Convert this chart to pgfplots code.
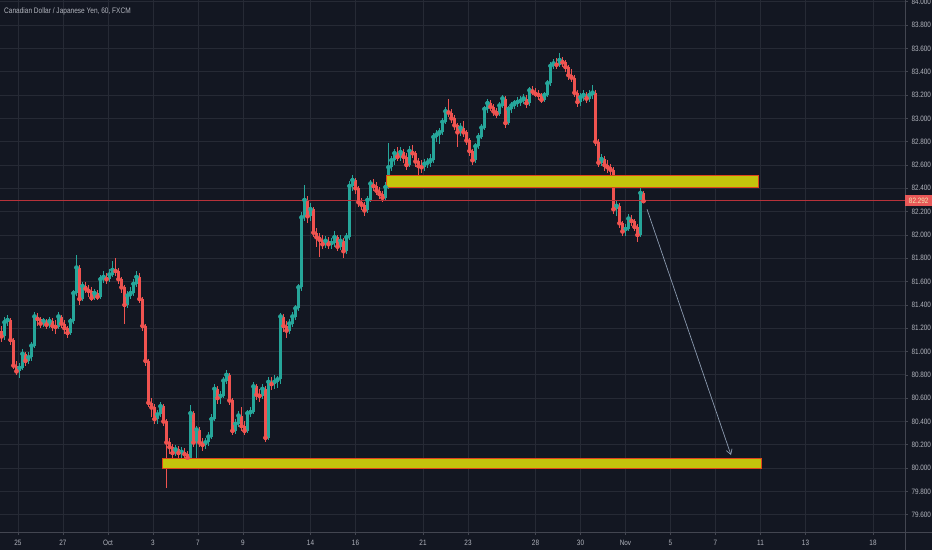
\documentclass[border=0pt]{standalone}
\usepackage{fontspec}
\newfontfamily\lbl{Liberation Sans}[FakeStretch=0.82]
\usepackage{pgfplots}
\pgfplotsset{compat=1.18}
\usepackage{pgfplotstable}
\usetikzlibrary{arrows.meta}
\definecolor{bg}{HTML}{131722}
\definecolor{gridc}{HTML}{262A35}
\definecolor{axc}{HTML}{434651}
\definecolor{txtc}{HTML}{B2B5BE}
\definecolor{upc}{HTML}{26A69A}
\definecolor{dnc}{HTML}{EF5350}
\definecolor{yel}{HTML}{C4C40C}
\definecolor{orng}{HTML}{E0461C}
\definecolor{arrc}{HTML}{8C9BB0}
\definecolor{pxline}{HTML}{B8323A}
\definecolor{lblred}{HTML}{E85858}
\definecolor{lbltxt}{HTML}{F0E8B0}
\pgfplotstableread{
x o h l c
1.5 81.18 81.22 81.08 81.13
4.5 81.13 81.30 81.10 81.25
7.5 81.25 81.31 81.22 81.27
10.5 81.27 81.29 81.06 81.10
13.5 81.10 81.12 80.85 80.88
16.5 80.88 80.92 80.80 80.83
19.5 80.83 80.90 80.77 80.86
22.5 80.86 81.02 80.84 80.98
25.5 80.98 81.00 80.88 80.92
28.5 80.92 81.00 80.89 80.95
31.5 80.95 81.08 80.92 81.05
34.5 81.05 81.34 81.03 81.30
37.5 81.30 81.33 81.22 81.28
40.5 81.28 81.30 81.20 81.24
43.5 81.24 81.29 81.21 81.26
46.5 81.26 81.28 81.19 81.23
49.5 81.23 81.30 81.20 81.26
52.5 81.26 81.29 81.18 81.22
55.5 81.22 81.27 81.15 81.21
58.5 81.21 81.34 81.19 81.30
61.5 81.30 81.31 81.20 81.24
64.5 81.24 81.27 81.15 81.20
67.5 81.20 81.22 81.12 81.16
70.5 81.16 81.29 81.14 81.26
73.5 81.26 81.53 81.24 81.50
76.5 81.50 81.83 81.48 81.72
79.5 81.72 81.74 81.40 81.45
82.5 81.45 81.60 81.43 81.56
85.5 81.56 81.60 81.50 81.54
88.5 81.54 81.57 81.47 81.52
91.5 81.52 81.55 81.43 81.46
94.5 81.46 81.54 81.44 81.50
97.5 81.50 81.53 81.44 81.47
100.5 81.47 81.66 81.45 81.62
103.5 81.62 81.69 81.59 81.64
106.5 81.64 81.67 81.58 81.62
109.5 81.62 81.71 81.60 81.66
112.5 81.66 81.78 81.64 81.70
115.5 81.70 81.80 81.65 81.69
118.5 81.69 81.72 81.58 81.62
121.5 81.62 81.64 81.50 81.55
124.5 81.55 81.57 81.24 81.40
127.5 81.40 81.52 81.37 81.48
130.5 81.48 81.55 81.45 81.50
133.5 81.50 81.62 81.48 81.58
136.5 81.58 81.69 81.55 81.64
139.5 81.64 81.67 81.42 81.45
142.5 81.45 81.47 81.18 81.22
145.5 81.22 81.24 80.88 80.92
148.5 80.92 80.94 80.52 80.56
151.5 80.56 80.60 80.44 80.52
154.5 80.52 80.55 80.38 80.42
157.5 80.42 80.50 80.38 80.46
160.5 80.46 80.57 80.44 80.53
163.5 80.53 80.55 80.36 80.40
166.5 80.40 80.42 79.83 80.22
169.5 80.22 80.26 80.12 80.18
172.5 80.18 80.21 80.09 80.13
175.5 80.13 80.20 80.10 80.16
178.5 80.16 80.19 80.09 80.13
181.5 80.13 80.18 80.09 80.14
184.5 80.14 80.17 80.08 80.12
187.5 80.12 80.15 80.06 80.09
190.5 80.09 80.54 80.07 80.47
193.5 80.47 80.49 80.18 80.22
196.5 80.22 80.36 80.04 80.33
199.5 80.33 80.35 80.18 80.22
202.5 80.22 80.26 80.15 80.20
205.5 80.20 80.26 80.16 80.22
208.5 80.22 80.31 80.19 80.27
211.5 80.27 80.46 80.25 80.42
214.5 80.42 80.72 80.40 80.68
217.5 80.68 80.70 80.55 80.60
220.5 80.60 80.66 80.55 80.62
223.5 80.62 80.78 80.60 80.75
226.5 80.75 80.84 80.72 80.80
229.5 80.80 80.82 80.54 80.58
232.5 80.58 80.60 80.28 80.32
235.5 80.32 80.42 80.29 80.38
238.5 80.38 80.49 80.35 80.45
241.5 80.45 80.52 80.32 80.36
244.5 80.36 80.40 80.28 80.32
247.5 80.32 80.50 80.30 80.47
250.5 80.47 80.52 80.44 80.48
253.5 80.48 80.74 80.46 80.70
256.5 80.70 80.72 80.58 80.63
259.5 80.63 80.68 80.57 80.62
262.5 80.62 80.72 80.59 80.68
265.5 80.68 80.70 80.22 80.26
268.5 80.26 80.78 80.24 80.74
271.5 80.74 80.78 80.67 80.72
274.5 80.72 80.80 80.68 80.74
277.5 80.74 80.79 80.69 80.76
280.5 80.76 81.33 80.72 81.30
283.5 81.30 81.32 81.17 81.22
286.5 81.22 81.26 81.12 81.18
289.5 81.18 81.28 81.15 81.24
292.5 81.24 81.34 81.21 81.30
295.5 81.30 81.40 81.27 81.37
298.5 81.37 81.58 81.35 81.55
301.5 81.55 82.20 81.52 82.15
304.5 82.15 82.43 82.12 82.30
307.5 82.30 82.33 82.10 82.16
310.5 82.16 82.27 82.12 82.22
313.5 82.22 82.24 81.98 82.02
316.5 82.02 82.06 81.90 81.98
319.5 81.98 82.02 81.81 81.96
322.5 81.96 82.00 81.88 81.92
325.5 81.92 81.99 81.89 81.95
328.5 81.95 81.98 81.88 81.92
331.5 81.92 81.97 81.88 81.93
334.5 81.93 82.03 81.90 81.98
337.5 81.98 82.00 81.86 81.90
340.5 81.90 82.00 81.87 81.95
343.5 81.95 81.97 81.80 81.86
346.5 81.86 82.02 81.84 81.98
349.5 81.98 82.46 81.96 82.42
352.5 82.42 82.51 82.38 82.47
355.5 82.47 82.49 82.35 82.40
358.5 82.40 82.42 82.24 82.28
361.5 82.28 82.32 82.21 82.26
364.5 82.26 82.28 82.16 82.21
367.5 82.21 82.33 82.19 82.30
370.5 82.30 82.47 82.28 82.44
373.5 82.44 82.48 82.38 82.42
376.5 82.42 82.45 82.34 82.38
379.5 82.38 82.41 82.31 82.35
382.5 82.35 82.38 82.28 82.32
385.5 82.32 82.45 82.30 82.41
388.5 82.41 82.79 82.39 82.58
391.5 82.58 82.68 82.55 82.64
394.5 82.64 82.74 82.60 82.70
397.5 82.70 82.75 82.63 82.67
400.5 82.67 82.75 82.63 82.71
403.5 82.71 82.74 82.62 82.67
406.5 82.67 82.70 82.56 82.60
409.5 82.60 82.76 82.58 82.72
412.5 82.72 82.77 82.66 82.70
415.5 82.70 82.72 82.58 82.63
418.5 82.63 82.66 82.46 82.59
421.5 82.59 82.64 82.53 82.58
424.5 82.58 82.65 82.55 82.61
427.5 82.61 82.66 82.57 82.62
430.5 82.62 82.69 82.58 82.64
433.5 82.64 82.87 82.62 82.84
436.5 82.84 82.90 82.80 82.86
439.5 82.86 82.92 82.78 82.88
442.5 82.88 83.00 82.86 82.97
445.5 82.97 83.10 82.95 83.06
448.5 83.06 83.17 83.01 83.05
451.5 83.05 83.08 82.96 83.00
454.5 83.00 83.03 82.90 82.94
457.5 82.94 82.96 82.75 82.88
460.5 82.88 82.96 82.85 82.92
463.5 82.92 82.98 82.84 82.88
466.5 82.88 82.90 82.77 82.81
469.5 82.81 82.83 82.68 82.72
472.5 82.72 82.74 82.60 82.64
475.5 82.64 82.79 82.62 82.76
478.5 82.76 82.87 82.74 82.84
481.5 82.84 82.95 82.82 82.92
484.5 82.92 83.11 82.90 83.08
487.5 83.08 83.17 83.05 83.13
490.5 83.13 83.16 83.06 83.10
493.5 83.10 83.12 83.02 83.06
496.5 83.06 83.09 83.00 83.04
499.5 83.04 83.14 83.02 83.11
502.5 83.11 83.20 83.09 83.17
505.5 83.17 83.19 82.92 82.96
508.5 82.96 83.11 82.94 83.08
511.5 83.08 83.14 83.05 83.11
514.5 83.11 83.16 83.08 83.13
517.5 83.13 83.18 83.10 83.14
520.5 83.14 83.19 83.11 83.15
523.5 83.15 83.21 83.12 83.17
526.5 83.17 83.20 83.09 83.13
529.5 83.13 83.27 83.11 83.24
532.5 83.24 83.28 83.20 83.23
535.5 83.23 83.26 83.18 83.21
538.5 83.21 83.24 83.16 83.20
541.5 83.20 83.22 83.13 83.16
544.5 83.16 83.23 83.14 83.20
547.5 83.20 83.33 83.18 83.30
550.5 83.30 83.48 83.28 83.45
553.5 83.45 83.51 83.42 83.47
556.5 83.47 83.52 83.42 83.46
559.5 83.46 83.56 83.44 83.50
562.5 83.50 83.53 83.44 83.48
565.5 83.48 83.50 83.40 83.44
568.5 83.44 83.46 83.33 83.37
571.5 83.37 83.42 83.31 83.35
574.5 83.35 83.37 83.18 83.22
577.5 83.22 83.24 83.10 83.14
580.5 83.14 83.22 83.11 83.18
583.5 83.18 83.24 83.15 83.20
586.5 83.20 83.23 83.13 83.17
589.5 83.17 83.24 83.14 83.20
592.5 83.20 83.29 83.17 83.22
595.5 83.22 83.24 82.76 82.80
598.5 82.80 82.82 82.58 82.62
601.5 82.62 82.69 82.59 82.65
604.5 82.65 82.68 82.55 82.60
607.5 82.60 82.64 82.53 82.58
610.5 82.58 82.61 82.50 82.56
613.5 82.56 82.58 82.18 82.22
616.5 82.22 82.30 82.16 82.25
619.5 82.25 82.27 82.06 82.10
622.5 82.10 82.12 81.99 82.03
625.5 82.03 82.09 81.99 82.05
628.5 82.05 82.18 82.03 82.14
631.5 82.14 82.17 82.08 82.12
634.5 82.12 82.14 82.03 82.07
637.5 82.07 82.09 81.94 82.00
640.5 82.00 82.41 81.98 82.36
643.5 82.36 82.38 82.27 82.29
}\candles
\begin{document}
\begin{tikzpicture}
\fill[bg] (0,0) rectangle (932bp,550bp);
\begin{axis}[
  at={(0,18bp)}, anchor=south west,
  width=905bp, height=532bp, scale only axis,
  xmin=0, xmax=905, ymin=79.452, ymax=84.015,
  axis x line*=bottom, axis y line*=right,
  axis line style={draw=axc, line width=0.8bp},
  grid=major, major grid style={draw=gridc, line width=0.7bp},
  xtick={18,63,108,153,198,243,310.5,355.5,423,468,535.5,580.5,625.5,670.5,715.5,760.5,805.5,873},
  xticklabels={25,27,Oct,3,7,9,14,16,21,23,28,30,Nov,5,7,11,13,18},
  ytick={79.6,79.8,80,80.2,80.4,80.6,80.8,81,81.2,81.4,81.6,81.8,82,82.2,82.4,82.6,82.8,83,83.2,83.4,83.6,83.8,84},
  /pgf/number format/assume math mode=true,
  yticklabel style={/pgf/number format/fixed, /pgf/number format/fixed zerofill, /pgf/number format/precision=3, /pgf/number format/assume math mode=true, anchor=west, xshift=0bp},
  tick style={draw=axc, line width=0.6bp},
  major tick length=3bp, tick align=outside,
  ticklabel style={font=\lbl\fontsize{7.8}{8}\selectfont, text=txtc},
  xticklabel style={anchor=base, yshift=-10bp},
]
% wicks
\addplot[only marks, mark=none, color=upc, forget plot,
  restrict expr to domain={\thisrow{c}-\thisrow{o}}{0:10},
  error bars/.cd, y dir=both, y explicit, error mark=none,
  error bar style={line width=0.7bp, color=upc}]
  table[x=x, y=c, y error plus expr=\thisrow{h}-\thisrow{c}, y error minus expr=\thisrow{c}-\thisrow{l}] {\candles};
\addplot[only marks, mark=none, color=dnc, forget plot,
  restrict expr to domain={\thisrow{c}-\thisrow{o}}{-10:0},
  error bars/.cd, y dir=both, y explicit, error mark=none,
  error bar style={line width=0.7bp, color=dnc}]
  table[x=x, y=c, y error plus expr=\thisrow{h}-\thisrow{c}, y error minus expr=\thisrow{c}-\thisrow{l}] {\candles};
% bodies
\addplot[only marks, mark=none, color=upc, forget plot,
  restrict expr to domain={\thisrow{c}-\thisrow{o}}{0:10},
  error bars/.cd, y dir=minus, y explicit, error mark=none,
  error bar style={line width=2.5bp, color=upc}]
  table[x=x, y=c, y error minus expr=\thisrow{c}-\thisrow{o}] {\candles};
\addplot[only marks, mark=none, color=dnc, forget plot,
  restrict expr to domain={\thisrow{c}-\thisrow{o}}{-10:0},
  error bars/.cd, y dir=plus, y explicit, error mark=none,
  error bar style={line width=2.5bp, color=dnc}]
  table[x=x, y=c, y error plus expr=\thisrow{o}-\thisrow{c}] {\candles};
% zones
\addplot[fill=yel, draw=orng, line width=0.8bp] coordinates {(386,82.411) (758,82.411) (758,82.514) (386,82.514)} --cycle;
\addplot[fill=yel, draw=orng, line width=0.8bp] coordinates {(162,80.001) (761,80.001) (761,80.087) (162,80.087)} --cycle;
% last price line
\addplot[color=pxline, draw=pxline, line width=0.9bp, mark=none] coordinates {(0,82.292) (905,82.292)};
% arrow
\addplot[draw=arrc, line width=0.7bp, -{Straight Barb[length=5bp,width=6bp]}] coordinates {(647,82.22) (731,80.112)};
\coordinate (pl) at (axis cs:905,82.292);
\end{axis}
\draw[axc, line width=0.8bp] (0,18bp) -- (932bp,18bp);
\draw[axc, line width=0.8bp] (905bp,0) -- (905bp,550bp);
\node[fill=lblred, anchor=west, inner sep=0pt, minimum height=11bp, minimum width=27bp,
  text=lbltxt, font=\lbl\fontsize{7.8}{8}\selectfont] at (pl) {82.292};
\node[anchor=base west, inner sep=0pt, text=txtc, font=\lbl\fontsize{8}{9}\selectfont] at (4bp,536bp) {Canadian Dollar / Japanese Yen, 60, FXCM};
\pgfresetboundingbox
\useasboundingbox (0,0) rectangle (932bp,550bp);
\end{tikzpicture}
\end{document}
